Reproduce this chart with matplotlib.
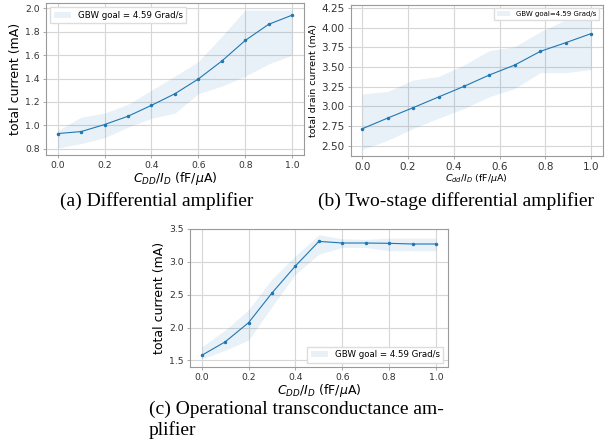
import numpy as np
import matplotlib
matplotlib.use("Agg")
import matplotlib.pyplot as plt

# ---- data ----
xa = [0.0, 0.1, 0.2, 0.3, 0.4, 0.5, 0.6, 0.7, 0.8, 0.9, 1.0]
ya = [0.93, 0.947, 1.007, 1.078, 1.171, 1.27, 1.396, 1.549, 1.725, 1.863, 1.941]
ya_lo = [0.805, 0.845, 0.895, 0.985, 1.06, 1.105, 1.27, 1.335, 1.42, 1.525, 1.6]
ya_hi = [0.955, 1.07, 1.105, 1.18, 1.3, 1.42, 1.545, 1.76, 1.985, 1.985, 1.985]

xb = [0.0, 1/9, 2/9, 3/9, 4/9, 5/9, 6/9, 7/9, 8/9, 1.0]
yb = [2.716, 2.852, 2.984, 3.12, 3.255, 3.40, 3.527, 3.70, 3.81, 3.926]
yb_lo = [2.453, 2.57, 2.72, 2.85, 2.975, 3.124, 3.23, 3.43, 3.43, 3.47]
yb_hi = [3.158, 3.19, 3.336, 3.38, 3.527, 3.71, 3.76, 3.95, 4.1, 4.12]

xc = [0.0, 0.1, 0.2, 0.3, 0.4, 0.5, 0.6, 0.7, 0.8, 0.9, 1.0]
yc = [1.577, 1.782, 2.074, 2.526, 2.936, 3.31, 3.285, 3.285, 3.28, 3.27, 3.27]
yc_lo = [1.526, 1.654, 1.81, 2.32, 2.81, 3.115, 3.218, 3.218, 3.167, 3.167, 3.167]
yc_hi = [1.705, 1.96, 2.27, 2.74, 3.09, 3.41, 3.35, 3.34, 3.36, 3.36, 3.36]

xlabel_a = r"$C_{DD}/I_D$ (fF/$\mu$A)"
xlabel_b = r"$C_{dd}/I_D$ (fF/$\mu$A)"
legend_a = "GBW goal = 4.59 Grad/s"
legend_b = "GBW goal=4.59 Grad/s"
captions = ["(a) Differential amplifier",
            "(b) Two-stage differential amplifier",
            "(c) Operational transconductance am-\nplifier"]

C0 = "#1f77b4"
GRID = "#d6d6d6"
SPINE = "#9a9a9a"

fig = plt.figure(figsize=(6.10, 4.47), dpi=100)


def style(ax, tick_fs):
    ax.set_facecolor("white")
    ax.grid(True, color=GRID, linewidth=0.8)
    ax.set_axisbelow(True)
    for s in ax.spines.values():
        s.set_color(SPINE)
        s.set_linewidth(0.8)
    ax.tick_params(axis="both", labelsize=tick_fs, length=2.5, width=0.6, pad=2,
                   color=SPINE, labelcolor="#333333")
    ax.set_xticks([0.0, 0.2, 0.4, 0.6, 0.8, 1.0])


def panel(rect, x, y, lo, hi, lab, loc, leg_fs, tick_fs, lab_fs, xlab, ylab):
    ax = fig.add_axes(rect)
    ax.fill_between(x, lo, hi, color=C0, alpha=0.1, linewidth=0, label=lab)
    ax.plot(x, y, color=C0, linewidth=0.8, marker="o", markersize=1.5)
    style(ax, tick_fs)
    ax.set_xlabel(xlab, fontsize=lab_fs, labelpad=0)
    ax.set_ylabel(ylab, fontsize=lab_fs, labelpad=2)
    ax.legend(loc=loc, fontsize=leg_fs, frameon=True, fancybox=False,
              edgecolor="#dddddd", framealpha=1.0)
    return ax


axa = panel([0.0754, 0.653, 0.4226, 0.340], xa, ya, ya_lo, ya_hi, legend_a,
            "upper left", 6.2, 6.7, 9.0, xlabel_a, "total current (mA)")
axa.set_yticks([0.8, 1.0, 1.2, 1.4, 1.6, 1.8, 2.0])
axa.set_xlim(-0.05, 1.05)

axb = panel([0.575, 0.651, 0.413, 0.338], xb, yb, yb_lo, yb_hi, legend_b,
            "upper right", 5.0, 7.5, 6.8, xlabel_b, "total drain current (mA)")
axb.set_ylim(2.37, 4.29)
axb.set_yticks([2.5, 2.75, 3.0, 3.25, 3.5, 3.75, 4.0, 4.25])
axb.set_xlim(-0.05, 1.05)

axc = panel([0.3115, 0.179, 0.4225, 0.309], xc, yc, yc_lo, yc_hi, legend_a,
            "lower right", 6.2, 6.7, 9.0, xlabel_a, "total current (mA)")
axc.set_ylim(1.4, 3.5)
axc.set_yticks([1.5, 2.0, 2.5, 3.0, 3.5])
axc.set_xlim(-0.05, 1.05)

cap_kw = dict(fontsize=14, family="Liberation Serif", color="black")
fig.text(157 / 610, 1 - 201 / 447, captions[0], ha="center", va="center", **cap_kw)
fig.text(456 / 610, 1 - 201 / 447, captions[1], ha="center", va="center", **cap_kw)
fig.text(149 / 610, 1 - 401 / 447, captions[2], ha="left", va="top",
         linespacing=1.2, **cap_kw)

fig.savefig("out.png", dpi=100)
